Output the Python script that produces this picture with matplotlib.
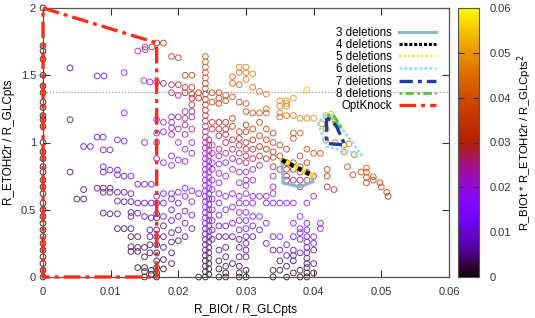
import matplotlib
matplotlib.use("Agg")
import matplotlib.pyplot as plt
import numpy as np
from matplotlib.lines import Line2D
from matplotlib.cm import ScalarMappable
from matplotlib.colors import Normalize

plt.rcParams['font.family'] = ['Liberation Sans', 'DejaVu Sans']

# ---------------- data ----------------
# column at zero biomass
zero_y = [2.0, 1.72, 1.68, 1.62, 1.5, 1.42, 1.37, 1.3, 1.26, 1.2, 1.17, 1.12, 1.0, 0.93,
          0.88, 0.82, 0.78, 0.72, 0.67, 0.62, 0.55, 0.5, 0.45, 0.4, 0.35, 0.3, 0.25,
          0.2, 0.15, 0.1, 0.05, 0.0]

# scattered points left of the OptKnock boundary
left_x = [0.004, 0.008, 0.009, 0.012, 0.014, 0.0151, 0.0151, 0.0161, 0.0149, 0.0158,
          0.004, 0.012, 0.008, 0.0089, 0.011, 0.012, 0.015, 0.006, 0.007, 0.0089, 0.0099,
          0.004, 0.0089, 0.0089, 0.0099, 0.011, 0.011, 0.012, 0.013, 0.006, 0.005, 0.006,
          0.008, 0.0089, 0.0089, 0.0099, 0.0099, 0.011, 0.012, 0.013, 0.014, 0.015, 0.016,
          0.011, 0.012, 0.013, 0.014, 0.015, 0.016, 0.0089, 0.0099, 0.011, 0.013, 0.013,
          0.014, 0.015, 0.016, 0.011, 0.012, 0.013, 0.013, 0.014, 0.0158, 0.0158, 0.013,
          0.014, 0.013, 0.014, 0.015, 0.0158, 0.0158, 0.015, 0.014, 0.015, 0.015, 0.016,
          0.016, 0.015]
left_y = [1.555, 1.495, 1.495, 1.52, 1.68, 1.71, 1.69, 1.71, 1.46, 1.45,
          1.17, 1.22, 1.04, 1.04, 1.02, 1.01, 1.0, 0.97, 0.97, 0.945, 0.945,
          0.78, 0.82, 0.78, 0.795, 0.795, 0.76, 0.75, 0.75, 0.65, 0.58, 0.58,
          0.66, 0.66, 0.63, 0.66, 0.63, 0.63, 0.63, 0.62, 0.69, 0.69, 0.69,
          0.565, 0.56, 0.56, 0.55, 0.55, 0.55, 0.475, 0.47, 0.47, 0.48, 0.45,
          0.475, 0.45, 0.44, 0.36, 0.36, 0.36, 0.30, 0.30, 0.35, 0.30, 0.225,
          0.22, 0.19, 0.19, 0.22, 0.24, 0.18, 0.15, 0.07, 0.07, 0.04, 0.05,
          0.02, 0.0]

# columns of solutions right of the OptKnock boundary
col_x = [0.0168, 0.0178, 0.019, 0.020, 0.021, 0.022, 0.023, 0.0240, 0.0245, 0.025,
         0.026, 0.027, 0.028, 0.029, 0.030, 0.031, 0.032, 0.033, 0.034, 0.035, 0.036,
         0.037, 0.038, 0.039, 0.040, 0.041, 0.042, 0.043]
col_y = [
    [1.74, 1.45, 1.17, 1.07, 1.0, 0.88, 0.6, 0.55, 0.47, 0.44, 0.35, 0.3, 0.24, 0.18, 0.12, 0.07, 0.03, 0.0],
    [1.74, 1.44, 1.15, 1.08, 0.85, 0.62, 0.55, 0.45, 0.38, 0.3, 0.22, 0.13, 0.06],
    [1.64, 1.43, 1.37, 1.19, 1.15, 1.11, 1.06, 0.9, 0.83, 0.62, 0.58, 0.5, 0.42, 0.33, 0.26, 0.18, 0.1],
    [1.63, 1.43, 1.35, 1.19, 1.1, 1.0, 0.87, 0.63, 0.55, 0.45, 0.35, 0.27],
    [1.5, 1.41, 1.37, 1.23, 1.18, 1.13, 1.06, 0.95, 0.86, 0.66, 0.6, 0.49, 0.4, 0.3],
    [1.5, 1.41, 1.36, 1.33, 1.28, 1.23, 1.19, 1.1, 1.0, 0.92, 0.64, 0.56, 0.46, 0.36],
    [1.37, 1.33, 0.62, 0.0],
    [1.64, 1.6, 1.56, 1.52, 1.48, 1.44, 1.4, 1.36, 1.32, 1.28, 1.24, 1.2, 1.16, 1.12, 1.08,
     1.04, 1.0, 0.96, 0.92, 0.88, 0.84, 0.8, 0.76, 0.72, 0.68, 0.64, 0.6, 0.56, 0.52, 0.48,
     0.44, 0.4, 0.36, 0.32, 0.28, 0.24, 0.2, 0.16, 0.12, 0.08, 0.04, 0.0],
    [1.02, 0.98, 0.94, 0.9, 0.86, 0.82, 0.78, 0.74, 0.7, 0.66, 0.62, 0.58, 0.54, 0.5, 0.46,
     0.42, 0.38, 0.34, 0.3, 0.26, 0.22, 0.18, 0.14, 0.1, 0.06, 0.02],
    [1.37, 1.30, 1.15, 1.1, 0.98, 0.92, 0.85, 0.8, 0.72, 0.65, 0.58, 0.5, 0.42, 0.35, 0.28],
    [1.37, 1.33, 1.29, 1.15, 1.1, 1.05, 0.95, 0.9, 0.84, 0.77, 0.7, 0.62, 0.55, 0.46, 0.38, 0.3, 0.2, 0.12, 0.06, 0.0],
    [1.35, 1.31, 1.15, 1.10, 1.06, 1.0, 0.92, 0.85, 0.75, 0.6, 0.5, 0.38, 0.3, 0.22, 0.15, 0.08, 0.03, 0.0],
    [1.49, 1.44, 1.34, 1.18, 1.12, 1.02, 0.95, 0.88, 0.8, 0.62, 0.52, 0.4, 0.3, 0.1],
    [1.56, 1.52, 1.43, 1.30, 1.08, 1.03, 0.98, 0.92, 0.86, 0.78, 0.7, 0.6, 0.55, 0.48, 0.42, 0.35, 0.28, 0.22, 0.15, 0.08, 0.03, 0.0],
    [1.56, 1.52, 1.47, 1.29, 1.23, 1.13, 1.08, 1.0, 0.95, 0.9, 0.85, 0.78, 0.72, 0.68, 0.62, 0.55, 0.48, 0.42, 0.36, 0.3, 0.25, 0.2, 0.15, 0.05, 0.0],
    [1.51, 1.41, 1.22, 1.1, 1.02, 0.95, 0.88, 0.8, 0.72, 0.6, 0.55, 0.45, 0.38, 0.3],
    [1.38, 1.22, 1.15, 1.05, 0.97, 0.9, 0.83, 0.6, 0.45, 0.35],
    [1.36, 1.25, 1.22, 1.1, 1.02, 0.95, 0.88, 0.6, 0.55, 0.4, 0.25],
    [1.07, 1.0, 0.93, 0.89, 0.82, 0.75, 0.67, 0.62, 0.55, 0.3, 0.2, 0.05, 0.0],
    [1.31, 1.27, 1.22, 1.19, 0.98, 0.9, 0.8, 0.55, 0.3, 0.2, 0.12, 0.05],
    [1.31, 1.29, 1.27, 1.2, 0.95, 0.85, 0.8, 0.75, 0.72, 0.55, 0.24, 0.16, 0.08, 0.0],
    [1.33, 1.20, 1.07, 1.03, 0.85, 0.8, 0.72, 0.55, 0.4, 0.3, 0.2, 0.16, 0.12, 0.03],
    [1.18, 1.07, 0.9, 0.82, 0.78, 0.72, 0.67, 0.45, 0.36, 0.33, 0.28, 0.18, 0.05, 0.0],
    [1.39, 1.18, 0.95, 0.85, 0.78, 0.72, 0.55, 0.40, 0.35, 0.30, 0.26, 0.22, 0.18, 0.14, 0.10, 0.07, 0.03, 0.0],
    [1.18, 0.92, 0.75, 0.6, 0.3, 0.25, 0.2, 0.1, 0.03],
    [0.92, 0.40, 0.36],
    [0.80, 0.75, 0.67],
    [0.65],
]

# far right and inside the 6-8 deletion region
right_x = [0.045, 0.0458, 0.047, 0.0478, 0.0478, 0.0478, 0.0478, 0.0488, 0.0488, 0.0498,
           0.0500, 0.0508, 0.051, 0.0418, 0.0425, 0.0432, 0.0412, 0.0418, 0.0418, 0.0432,
           0.0445, 0.0452, 0.0445, 0.046, 0.0426, 0.0437]
right_y = [0.82, 0.76, 0.78, 0.81, 0.78, 0.74, 0.70, 0.745, 0.72, 0.70,
           0.67, 0.63, 0.60, 1.20, 1.19, 1.16, 1.14, 1.10, 1.02, 1.0,
           0.98, 0.99, 0.93, 0.91, 1.21, 1.12]

# deletion-strategy regions
optknock_x = [0.0, 0.0168, 0.0168, 0.0, 0.0]
optknock_y = [2.0, 1.74, 0.0, 0.0, 2.0]
del3_x = [0.0353, 0.0355, 0.0380, 0.0399, 0.0397, 0.0353]
del3_y = [0.870, 0.697, 0.671, 0.708, 0.758, 0.870]
del45_x = [0.0353, 0.0397]
del45_y = [0.870, 0.758]
del6_x = [0.04165, 0.04067, 0.0419, 0.04708, 0.04289, 0.04165]
del6_y = [1.204, 1.143, 0.969, 0.907, 1.192, 1.204]
del7_x = [0.0419, 0.0419, 0.0446, 0.0434, 0.0426, 0.0419]
del7_y = [1.18, 0.994, 0.981, 1.117, 1.167, 1.18]
del8_x = [0.0420, 0.0430, 0.0441, 0.0432, 0.0420]
del8_y = [1.204, 1.197, 1.105, 1.14, 1.204]

ref_level = 1.375
x_ticks = [0, 0.01, 0.02, 0.03, 0.04, 0.05, 0.06]
y_ticks = [0, 0.5, 1, 1.5, 2]
c_ticks = [0, 0.01, 0.02, 0.03, 0.04, 0.05, 0.06]

# ---------------- figure ----------------
fig = plt.figure(figsize=(5.35, 3.18), dpi=100)
ax = fig.add_axes([43/535, 41/318, 406/535, 269/318])
cax = fig.add_axes([458/535, 41/318, 21/535, 269/318])

cmap = plt.get_cmap('gnuplot')
norm = Normalize(0, 0.06)

xs = [0.0] * len(zero_y) + list(left_x) + list(right_x)
ys = list(zero_y) + list(left_y) + list(right_y)
for cx, cy in zip(col_x, col_y):
    xs += [cx] * len(cy)
    ys += list(cy)
xs = np.array(xs)
ys = np.array(ys)
prod = xs * ys

ax.axhline(ref_level, color='#999999', ls=(0, (1, 1.5)), lw=0.9, zorder=1)

edge = cmap(norm(prod))
edge[:, :3] = edge[:, :3] * 0.8 + 0.2  # soften outlines like the printed figure
ax.scatter(xs, ys, s=17, facecolors='none', edgecolors=edge,
           linewidths=0.7, zorder=2, clip_on=False)

h3, = ax.plot(del3_x, del3_y, color='#8cb6cc', lw=2.2, ls='-', zorder=4)
ax.plot(del45_x, del45_y, color='#f0e020', lw=3.2, ls='-', zorder=4)
h4, = ax.plot(del45_x, del45_y, color='black', lw=3.2, ls=(0, (1, 1)), zorder=5)
h5 = Line2D([], [], color='#f0e020', lw=1.6, ls=(0, (1, 1)))
h6, = ax.plot(del6_x, del6_y, color='#8fe0ee', lw=2.0, ls=(0, (1, 0.8)), zorder=4)
h8, = ax.plot(del8_x, del8_y, color='#55c040', lw=2.0, ls=(0, (1, 1.2, 3, 1.2)), zorder=5)
h7, = ax.plot(del7_x, del7_y, color='#1c3ca8', lw=2.4, ls=(0, (4, 1.5, 1.2, 1.5)), zorder=6)
hopt, = ax.plot(optknock_x, optknock_y, color='#ff2a1a', lw=2.4,
                ls=(0, (5, 1.5, 1.2, 1.5)), zorder=7, clip_on=False)

h4l = Line2D([], [], color='black', lw=2.2, ls=(0, (1, 0.6)))
leg = ax.legend([h3, h4l, h5, h6, h7, h8, hopt],
                ['3 deletions', '4 deletions', '5 deletions', '6 deletions',
                 '7 deletions', '8 deletions', 'OptKnock'],
                loc='upper right', bbox_to_anchor=(0.99, 0.965), frameon=False,
                markerfirst=False, fontsize=8.3, labelspacing=0.02, handlelength=3.2,
                handletextpad=0.6, borderaxespad=0.4)
for t in leg.get_texts():
    t.set_ha('right')

ax.set_xlim(0, 0.06)
ax.set_ylim(0, 2)
ax.set_xticks(x_ticks)
ax.set_yticks(y_ticks)
ax.set_xticklabels(['%g' % v for v in x_ticks])
ax.set_yticklabels(['%g' % v for v in y_ticks])
ax.tick_params(direction='in', length=5, width=0.8, top=True, right=True,
               labelsize=8, colors='#333333', pad=5)
ax.tick_params(axis='x', pad=7)
for sp in ax.spines.values():
    sp.set_color('#555555')
    sp.set_linewidth(0.9)
ax.set_xlabel('R_BIOt / R_GLCpts', fontsize=8.5, labelpad=5)
ax.set_ylabel('R_ETOHt2r / R_GLCpts', fontsize=8.5, labelpad=4)

cb = fig.colorbar(ScalarMappable(norm=norm, cmap=cmap), cax=cax)
cb.set_ticks(c_ticks)
cb.set_ticklabels(['%g' % v for v in c_ticks])
cb.outline.set_color('#555555')
cax.tick_params(direction='in', length=4, width=0.8, left=True, right=True,
                labelsize=8, pad=8, colors='#333333')
cb.set_label('R_BIOt * R_ETOHt2r / R_GLCpts$^2$', fontsize=8.2, labelpad=3)

fig.savefig('out.png', dpi=100)
